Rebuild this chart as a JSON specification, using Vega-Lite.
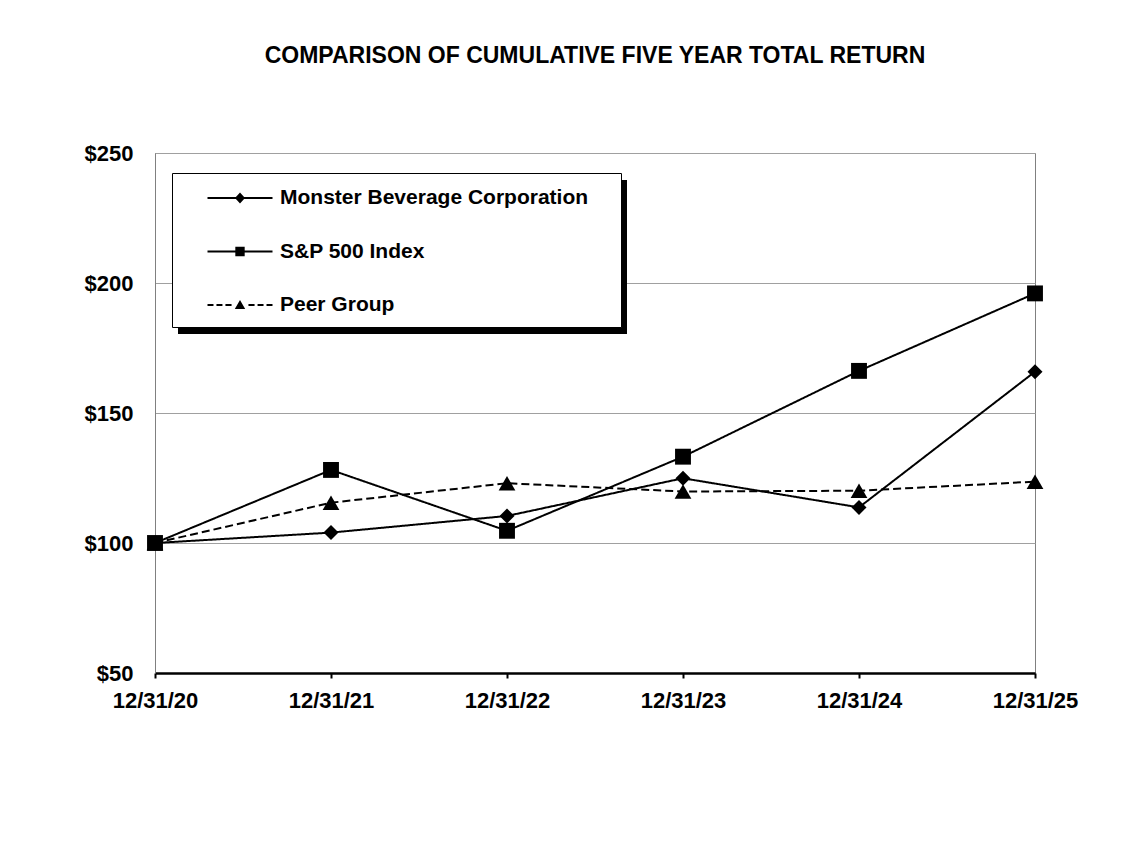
{
  "$schema": "https://vega.github.io/schema/vega-lite/v6.json",
  "width": 880,
  "height": 520,
  "autosize": {"type": "none"},
  "padding": {"left": 155, "top": 153, "right": 111, "bottom": 170},
  "background": "white",
  "config": {"view": {"stroke": "#808080", "strokeWidth": 1}, "font": "Liberation Sans"},
  "title": {"text": "COMPARISON OF CUMULATIVE FIVE YEAR TOTAL RETURN", "font": "Liberation Sans", "fontSize": 23, "fontWeight": "bold", "color": "black", "anchor": "middle", "offset": 74},
  "data": {"values": [
    {"date": "12/31/20", "series": "Peer Group", "value": 100},
    {"date": "12/31/21", "series": "Peer Group", "value": 115.5},
    {"date": "12/31/22", "series": "Peer Group", "value": 123.0},
    {"date": "12/31/23", "series": "Peer Group", "value": 119.8},
    {"date": "12/31/24", "series": "Peer Group", "value": 120.1},
    {"date": "12/31/25", "series": "Peer Group", "value": 123.6},
    {"date": "12/31/20", "series": "Monster Beverage Corporation", "value": 100},
    {"date": "12/31/21", "series": "Monster Beverage Corporation", "value": 104.0},
    {"date": "12/31/22", "series": "Monster Beverage Corporation", "value": 110.4},
    {"date": "12/31/23", "series": "Monster Beverage Corporation", "value": 124.9},
    {"date": "12/31/24", "series": "Monster Beverage Corporation", "value": 113.7},
    {"date": "12/31/25", "series": "Monster Beverage Corporation", "value": 165.9},
    {"date": "12/31/20", "series": "S&P 500 Index", "value": 100},
    {"date": "12/31/21", "series": "S&P 500 Index", "value": 128.1},
    {"date": "12/31/22", "series": "S&P 500 Index", "value": 104.7},
    {"date": "12/31/23", "series": "S&P 500 Index", "value": 133.2},
    {"date": "12/31/24", "series": "S&P 500 Index", "value": 166.2},
    {"date": "12/31/25", "series": "S&P 500 Index", "value": 196.0}
  ]},
  "encoding": {
    "x": {"field": "date", "type": "ordinal", "sort": ["12/31/20", "12/31/21", "12/31/22", "12/31/23", "12/31/24", "12/31/25"],
      "scale": {"type": "point", "padding": 0},
      "axis": {"title": null, "labelAngle": 0, "labelOverlap": false, "domainColor": "black", "domainWidth": 2.5, "tickColor": "black", "tickWidth": 2, "tickSize": 5, "labelFont": "Liberation Sans", "labelFontSize": 22, "labelFontWeight": "bold", "labelColor": "black", "labelPadding": 12, "grid": false}},
    "y": {"field": "value", "type": "quantitative",
      "scale": {"domain": [50, 250], "nice": false, "zero": false},
      "axis": {"title": null, "values": [50, 100, 150, 200, 250], "format": "$d", "ticks": false, "domainColor": "#808080", "domainWidth": 1, "grid": true, "gridColor": "#a0a0a0", "gridWidth": 1, "labelFont": "Liberation Sans", "labelFontSize": 22, "labelFontWeight": "bold", "labelColor": "black", "labelPadding": 22}}
  },
  "layer": [
    {
      "mark": {"type": "line", "color": "black", "strokeWidth": 2},
      "encoding": {
        "strokeDash": {"field": "series", "type": "nominal",
          "scale": {"domain": ["Monster Beverage Corporation", "S&P 500 Index", "Peer Group"], "range": [[1, 0], [1, 0], [8, 4]]},
          "legend": null}
      }
    },
    {
      "mark": {"type": "point", "filled": true, "color": "black", "opacity": 1},
      "encoding": {
        "shape": {"field": "series", "type": "nominal",
          "scale": {"domain": ["Monster Beverage Corporation", "S&P 500 Index", "Peer Group"], "range": ["diamond", "square", "triangle-up"]},
          "legend": null},
        "size": {"field": "series", "type": "nominal",
          "scale": {"domain": ["Monster Beverage Corporation", "S&P 500 Index", "Peer Group"], "range": [225, 280, 270]},
          "legend": null}
      }
    },
    {
      "data": {"values": []},
      "mark": {"type": "point", "filled": true, "color": "black", "size": 676, "opacity": 1},
      "encoding": {
        "shape": {"field": "series", "type": "nominal",
          "scale": {"domain": ["Monster Beverage Corporation", "S&P 500 Index", "Peer Group"],
            "range": [
              "M-2.5,-0.077H2.5V0.077H-2.5ZM0,-0.42L0.385,0L0,0.42L-0.385,0Z",
              "M-2.5,-0.077H2.5V0.077H-2.5ZM-0.36,-0.36H0.36V0.36H-0.36Z",
              "M-2.5,-0.077H-2.04V0.077H-2.5ZM-1.81,-0.077H-1.35V0.077H-1.81ZM-1.12,-0.077H-0.65V0.077H-1.12ZM0,-0.38L0.4,0.31L-0.4,0.31ZM0.65,-0.077H1.12V0.077H0.65ZM1.35,-0.077H1.81V0.077H1.35ZM2.04,-0.077H2.5V0.077H2.04Z"
            ]},
          "legend": {"orient": "none", "legendX": 17, "legendY": 20, "title": " ", "titleOrient": "right", "titleFontSize": 1, "titlePadding": 21,
            "padding": 12, "symbolOffset": 43, "strokeColor": "black", "fillColor": "white",
            "labelFont": "Liberation Sans", "labelFontSize": 21, "labelFontWeight": "bold", "labelColor": "black", "labelLimit": 0, "labelOffset": 27,
            "rowPadding": 30.5, "symbolSize": 676, "symbolStrokeWidth": 0, "symbolFillColor": "black", "zindex": 2}}
      }
    },
    {
      "data": {"values": []},
      "mark": {"type": "point", "filled": true, "color": "black", "size": 4, "opacity": 1},
      "encoding": {
        "shape": {"field": "series", "type": "nominal",
          "scale": {"domain": ["Monster Beverage Corporation", "S&P 500 Index", "Peer Group"],
            "range": ["M0,0H449V154H0Z", "M0,0H449V154H0Z", "M0,0H449V154H0Z"]},
          "legend": {"orient": "none", "legendX": 18, "legendY": 22, "title": null, "values": ["Monster Beverage Corporation"], "labelExpr": "''",
            "padding": 0, "symbolOffset": 0, "labelOffset": 0, "symbolSize": 4, "symbolStrokeWidth": 0, "symbolFillColor": "black", "zindex": 1}}
      }
    }
  ],
  "resolve": {"scale": {"shape": "independent", "size": "independent", "strokeDash": "independent"}, "legend": {"shape": "independent"}}
}
